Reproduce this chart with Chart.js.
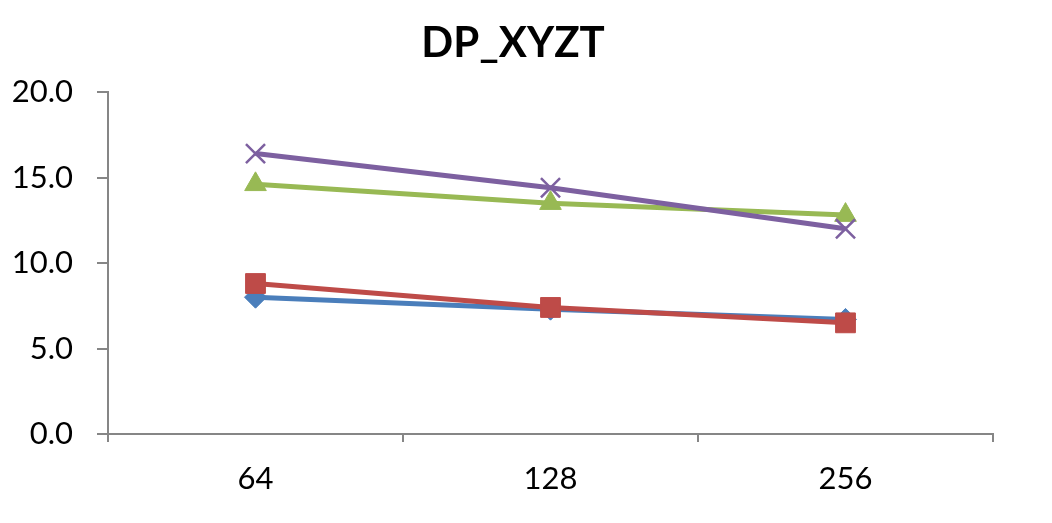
<!DOCTYPE html>
<html>
<head>
<meta charset="utf-8">
<script src="https://cdn.jsdelivr.net/npm/chart.js@4/dist/chart.umd.min.js"></script>
<style>
  html, body { margin: 0; padding: 0; background: #ffffff; }
  #wrap { width: 1052px; height: 523px; }
</style>
</head>
<body>
<div id="wrap"><canvas id="chart" width="1052" height="523"></canvas></div>
<script>
// Problem sizes on the x axis
const categories = ['64', '128', '256'];

// One series per variant
const seriesBlue   = [8.0, 7.3, 6.7];
const seriesRed    = [8.8, 7.4, 6.5];
const seriesGreen  = [14.6, 13.5, 12.8];
const seriesPurple = [16.4, 14.4, 12.0];

const yTicks = [0, 5, 10, 15, 20];

const FONT = 'Lato, "Open Sans", "Liberation Sans", sans-serif';
const AXIS = '#868686';

function series(label, data, color, style, radius, order, extra) {
  return Object.assign({
    label, data, order,
    borderColor: color,
    backgroundColor: color,
    borderWidth: 5,
    pointStyle: style,
    pointRadius: radius,
    pointHoverRadius: radius,
    pointBorderWidth: 1,
    pointBorderColor: color,
    pointBackgroundColor: color,
    tension: 0,
    fill: false
  }, extra || {});
}

new Chart(document.getElementById('chart'), {
  type: 'line',
  data: {
    labels: categories,
    datasets: [
      series('Series 1', seriesBlue, '#4A7EBB', 'rectRot', 11, 4),
      series('Series 2', seriesRed, '#BE4B48', 'rect', 14, 3),
      series('Series 3', seriesGreen, '#98B954', 'triangle', 12.5, 2),
      series('Series 4', seriesPurple, '#7D60A0', 'crossRot', 13.5, 1, { pointBorderWidth: 2.5 })
    ]
  },
  options: {
    responsive: false,
    animation: false,
    events: [],
    layout: { padding: { left: 0, right: 26, top: 0, bottom: 0 } },
    plugins: {
      legend: { display: false },
      tooltip: { enabled: false },
      title: {
        display: true,
        text: 'DP_XYZT',
        color: '#000000',
        font: { family: FONT, size: 42, weight: 'bold' },
        padding: { top: 18, bottom: 23.6 }
      }
    },
    scales: {
      x: {
        type: 'category',
        offset: true,
        afterFit: (s) => { s.height = 89; },
        grid: {
          offset: true,
          drawOnChartArea: false,
          drawTicks: true,
          tickLength: 8,
          color: AXIS,
          lineWidth: 2
        },
        border: { display: true, color: AXIS, width: 2 },
        ticks: {
          color: '#000000',
          padding: 18,
          font: { family: FONT, size: 31 }
        }
      },
      y: {
        min: 0,
        max: 20,
        afterFit: (s) => { s.width = 108; },
        afterBuildTicks: (s) => { s.ticks = yTicks.map(v => ({ value: v })); },
        grid: {
          drawOnChartArea: false,
          drawTicks: true,
          tickLength: 11,
          color: AXIS,
          lineWidth: 2
        },
        border: { display: true, color: AXIS, width: 2 },
        ticks: {
          color: '#000000',
          padding: 24,
          font: { family: FONT, size: 31 },
          callback: (v) => Number(v).toFixed(1)
        }
      },
      // empty margin on the right side of the plot
      yRight: {
        position: 'right',
        min: 0,
        max: 20,
        afterFit: (s) => { s.width = 33; },
        grid: { display: false },
        border: { display: false },
        ticks: { display: false }
      }
    }
  }
});
</script>
</body>
</html>
